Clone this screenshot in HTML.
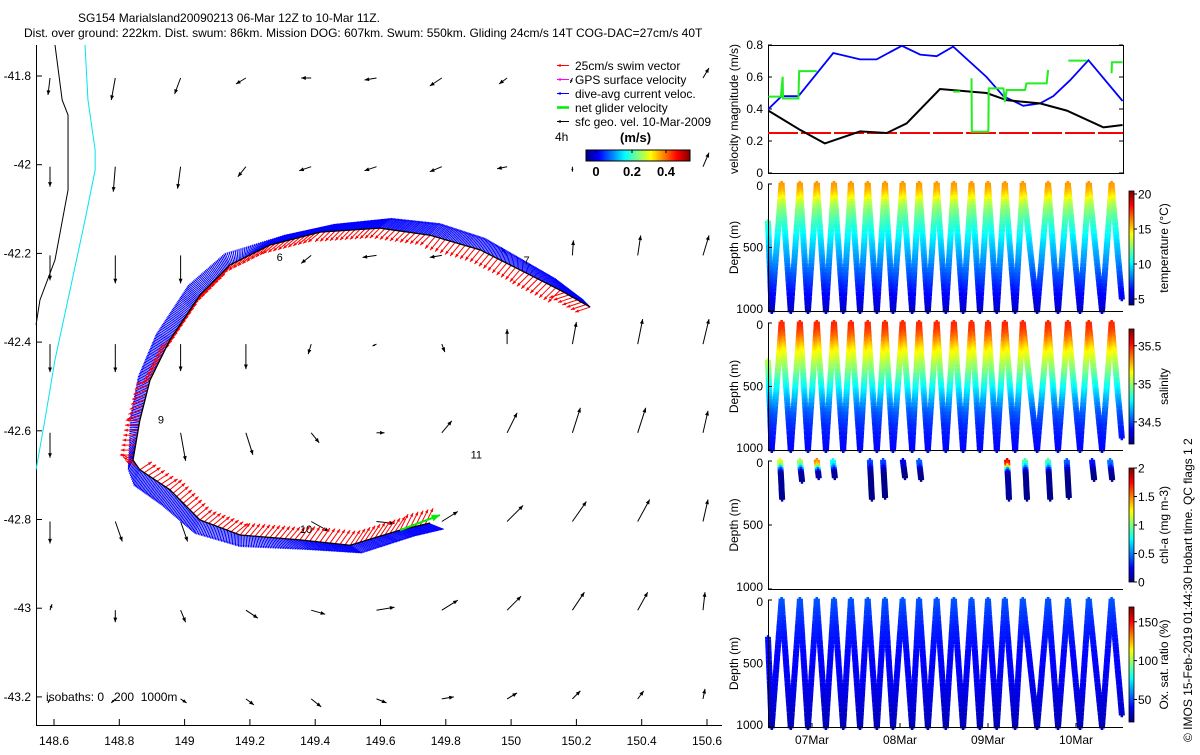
<!DOCTYPE html>
<html><head><meta charset="utf-8"><style>
body{margin:0;background:#fff}
svg text{font-family:"Liberation Sans",sans-serif;fill:#000}
</style></head><body>
<svg id="fig" width="1200" height="750" viewBox="0 0 1200 750" xmlns="http://www.w3.org/2000/svg">
<defs>
<linearGradient id="jetH" x1="0" x2="1" y1="0" y2="0"></linearGradient>
<linearGradient id="jetV" x1="0" x2="0" y1="1" y2="0"></linearGradient>
</defs>
<text x="78" y="22" font-size="12">SG154 Marialsland20090213 06-Mar 12Z to 10-Mar 11Z.</text>
<text x="24" y="37" font-size="12">Dist. over ground: 222km. Dist. swum: 86km. Mission DOG: 607km. Swum: 550km. Gliding 24cm/s 14T COG-DAC=27cm/s 40T</text>
<g id="map"></g>
<g id="legend"></g>
<g id="vel"></g>
<g id="prof"></g>
<text transform="translate(1192,742) rotate(-90)" font-size="12">© IMOS 15-Feb-2019 01:44:30 Hobart time. QC flags 1  2</text>
</svg>
<script>
// ---------- DATA ----------
const gridLons=[148.6,148.8,149.0,149.2,149.4,149.6,149.8,150.0,150.2,150.4,150.6];
const gridLats=[-41.8,-42.0,-42.2,-42.4,-42.6,-42.8,-43.0,-43.2];
const geoU=[
[-0.04,-0.08,-0.12,-0.2,-0.2,-0.24,-0.24,-0.16,-0.04,0,0.12],
[0,-0.04,-0.06,-0.16,-0.24,-0.24,-0.24,-0.2,0,0,0.12],
[0,0,0,0,-0.2,-0.28,-0.24,-0.12,0.02,0.06,0.12],
[0,0,0,0,-0.06,-0.08,0.06,0,0.08,0.1,0.12],
[0,0,0.1,0.14,0.16,0.16,0.2,0.2,0.16,0.16,0.1],
[0,0.14,0.14,0,0.36,0.36,0.32,0.32,0.28,0.24,0.1],
[0.04,0,0.1,0.24,0.28,0.36,0.32,0.28,0.24,0.2,0.04],
[-0.04,-0.08,0.12,0.16,0.2,0.2,0.24,0.2,0.16,0.12,0.04]];
const geoV=[
[-0.34,-0.44,-0.32,-0.12,0,-0.04,-0.16,-0.12,-0.1,0,0.2],
[-0.4,-0.5,-0.44,-0.2,-0.08,-0.08,-0.1,-0.04,-0.1,0,0.28],
[-0.5,-0.56,-0.56,0,-0.16,-0.04,-0.04,0.16,0.3,0.4,0.4],
[-0.56,-0.56,-0.54,-0.5,-0.2,-0.04,-0.16,0.3,0.44,0.5,0.5],
[-0.5,0,-0.56,-0.44,-0.2,0,0.24,0.4,0.5,0.5,0.44],
[-0.44,-0.4,-0.4,0,-0.2,-0.04,0.2,0.32,0.4,0.44,0.44],
[0.12,-0.24,-0.24,-0.16,-0.08,0.06,0.2,0.28,0.36,0.36,0.36],
[-0.08,-0.08,-0.08,-0.12,-0.16,-0.08,0.04,0.12,0.16,0.16,0.2]];
const coast0Lon=[148.603,148.625,148.643,148.643,148.603,148.557,148.545];
const coast0Lat=[-41.730,-41.854,-41.888,-42.057,-42.215,-42.305,-42.361];
const iso1000Lon=[148.695,148.704,148.726,148.726,148.695,148.649,148.603,148.572,148.545];
const iso1000Lat=[-41.730,-41.854,-41.967,-42.012,-42.125,-42.283,-42.440,-42.576,-42.688];
const trackLon=[150.242,150.150,150.027,149.905,149.752,149.598,149.415,149.262,149.139,149.047,148.955,148.894,148.863,148.842,148.863,148.955,149.047,149.170,149.353,149.507,149.660,149.752];
const trackLat=[-42.321,-42.283,-42.237,-42.192,-42.159,-42.143,-42.152,-42.181,-42.226,-42.294,-42.395,-42.486,-42.576,-42.666,-42.688,-42.733,-42.801,-42.835,-42.846,-42.858,-42.824,-42.808];
const curU=[-0.16,-0.1,0,0.1,0.2,0.24,0.3,0.3,-0.1,-0.24,-0.28,-0.24,-0.2,-0.1,-0.12,-0.16,-0.1,0,0.16,0.24,0.3,0.3];
const curV=[0.16,0.24,0.24,0.24,0.24,0.2,0.16,0.2,0.24,0.2,0.12,0.08,0.04,-0.2,-0.32,-0.32,-0.28,-0.24,-0.2,-0.16,-0.12,-0.12];
const swimU=[-0.3,-0.24,-0.2,-0.2,-0.2,-0.2,-0.24,-0.2,-0.16,-0.12,-0.2,-0.28,-0.28,-0.24,0.24,0.24,0.24,0.2,0.2,0.2,0.16,0.16];
const swimV=[-0.1,-0.24,-0.24,-0.24,-0.2,-0.2,-0.2,-0.2,-0.24,-0.24,-0.16,-0.08,0,0.12,0.16,0.2,0.2,0.24,0.28,0.3,0.32,0.32];
const netLon=[149.660,149.782], netLat=[-42.824,-42.790];
const dayLabels=["6","7","9","10","11"];
const dayLon=[149.282,150.038,148.918,149.353,149.876];
const dayLat=[-42.217,-42.224,-42.583,-42.830,-42.663];
const xTicks=[148.6,148.8,149,149.2,149.4,149.6,149.8,150,150.2,150.4,150.6];
const yTicks=[-41.8,-42,-42.2,-42.4,-42.6,-42.8,-43,-43.2];
const blueH=[0.1,3.7,8.3,17.8,25.1,29.6,36.5,41.5,46.0,50.5,59.6,64.2,69.6,74.2,77.8,82.4,87.4,96.7];
const blueV=[0.40,0.48,0.48,0.75,0.71,0.71,0.795,0.74,0.73,0.79,0.60,0.48,0.42,0.435,0.48,0.58,0.705,0.45];
const blackH=[0.1,8.7,15.5,25.1,32.4,37.8,46.9,59.6,65.1,74.2,81.5,91.5,96.7];
const blackV=[0.39,0.27,0.185,0.26,0.25,0.31,0.525,0.50,0.455,0.435,0.39,0.285,0.30];
const greenH=[0.1,3.5,4.0,4.1,4.2,8.3,8.5,8.7,13.3,null,50.5,52.4,null,55.5,55.6,59.6,60.1,60.2,64.2,64.6,65.1,70.1,70.5,76.0,76.4,null,81.9,86.9,null,93.7,93.8,96.7];
const greenV=[0.477,0.477,0.602,0.466,0.466,0.466,0.637,0.637,0.637,null,0.509,0.509,null,0.592,0.258,0.258,0.258,0.529,0.529,0.445,0.519,0.519,0.56,0.56,0.644,null,0.702,0.702,null,0.623,0.692,0.692];
const swimTarget=0.25;
const velTicks=[0,0.2,0.4,0.6,0.8];
const startDepth=300;
const bottomH=[1.0,6.2,10.9,15.8,20.5,25.1,29.7,34.1,39.3,43.6,48.5,53.2,57.8,62.4,67.4,73.4,79.1,85.1,91.1];
const surfH=[3.7,8.7,13.3,18.0,22.6,27.2,31.9,36.7,41.2,46.0,50.7,55.5,60.0,64.6,69.5,76.4,81.8,87.5,93.7];
const endH=96.5, endDepth=900;
const profDepths=[0,50,100,150,200,300,400,500,600,700,800,900,1000];
const tempVals=[16,15.5,14.5,13.2,12.4,11.2,10.2,9.3,8.5,7.6,6.7,5.9,5.2];
const salVals=[35.48,35.45,35.38,35.28,35.18,35.05,34.92,34.78,34.65,34.53,34.46,34.42,34.4];
const oxVals=[52,50,48,46,44,42,40,39,38,36,34,31,29];
const chlH=[3.3,8.7,13.3,17.7,27.8,31.4,36.8,41.2,65.2,70.1,76.4,81.5,88.4,93.3];
const chlMaxDepth=[290,150,130,130,300,280,120,140,300,300,290,280,140,140];
const chlSurf=[1.2,1.1,1.5,0.8,0.4,0.4,0.2,0.45,1.8,0.9,0.9,0.45,0.3,0.5];
const chlFracDepth=[0,30,60,90,300];
const chlFrac=[1,0.9,0.45,0.05,0.03];
const dateTicksH=[12,36,60,84];
const dateLabels=["07Mar","08Mar","09Mar","10Mar"];

// ---------- HELPERS ----------
const NS="http://www.w3.org/2000/svg";
function cl(v){return Math.max(0,Math.min(1,v));}
function jet(t){t=cl(t);const r=cl(1.5-Math.abs(4*t-3)),g=cl(1.5-Math.abs(4*t-2)),b=cl(1.5-Math.abs(4*t-1));return `rgb(${Math.round(r*255)},${Math.round(g*255)},${Math.round(b*255)})`;}
function interp(xs,ys,x){if(x<=xs[0])return ys[0];for(let i=1;i<xs.length;i++){if(x<=xs[i]){const f=(x-xs[i-1])/(xs[i]-xs[i-1]);return ys[i-1]+f*(ys[i]-ys[i-1]);}}return ys[ys.length-1];}
function mk(tag,attrs,parent){const e=document.createElementNS(NS,tag);for(const k in attrs)e.setAttribute(k,attrs[k]);parent.appendChild(e);return e;}
function txt(s,x,y,attrs,parent){const e=mk('text',Object.assign({x:x,y:y,'font-size':12},attrs),parent);e.textContent=s;return e;}
['jetH','jetV'].forEach(id=>{const g=document.getElementById(id);for(let i=0;i<=16;i++){mk('stop',{offset:(i/16),'stop-color':jet(i/16)},g);}});

// ---------- MAP ----------
const map=document.getElementById('map');
const mx=lon=>54+(lon-148.6)*326.5;
const my=lat=>76+(-41.8-lat)*443.5;
const VS=50;
function arrow(x0,y0,x1,y1,col,w,hs,parent,name){
  const g=mk('g',{},parent);
  
  
  mk('line',{x1:x0,y1:y0,x2:x1,y2:y1,stroke:col,'stroke-width':w},g);
  const a=Math.atan2(y1-y0,x1-x0),L=Math.hypot(x1-x0,y1-y0);
  if(L>1&&hs>0){const h=Math.min(hs,L*0.6);
    const p=[[x1,y1],[x1-h*Math.cos(a-0.4),y1-h*Math.sin(a-0.4)],[x1-h*Math.cos(a+0.4),y1-h*Math.sin(a+0.4)]];
    mk('polygon',{points:p.map(q=>q.join(',')).join(' '),fill:col},g);}
  return g;
}
const ax=mk('g',{},map);


mk('line',{x1:36.5,y1:45,x2:36.5,y2:725.5,stroke:'#000'},ax);
mk('line',{x1:36,y1:725.5,x2:722,y2:725.5,stroke:'#000'},ax);
xTicks.forEach(t=>{const x=mx(t);mk('line',{x1:x,y1:725,x2:x,y2:719,stroke:'#000'},ax);
  const e=txt(String(t),x,745,{'text-anchor':'middle'},ax);
  
  });
yTicks.forEach(t=>{const y=my(t);mk('line',{x1:36,y1:y,x2:42,y2:y,stroke:'#000'},ax);
  const e=txt(String(t),31,y+4,{'text-anchor':'end'},ax);
  
  });
const c0=mk('polyline',{points:coast0Lon.map((l,i)=>mx(l)+','+my(coast0Lat[i])).join(' '),fill:'none',stroke:'#000','stroke-width':1},map);


const c1=mk('polyline',{points:iso1000Lon.map((l,i)=>mx(l)+','+my(iso1000Lat[i])).join(' '),fill:'none',stroke:'#00e5ee','stroke-width':1},map);


gridLats.forEach((lat,r)=>gridLons.forEach((lon,c)=>{
  const x0=mx(lon)-4,y0=my(lat)+2;
  arrow(x0,y0,x0+geoU[r][c]*VS,y0-geoV[r][c]*VS,'#000',1,5,map,'geo-velocity-arrow');
}));
const trk=mk('g',{},map);


for(let i=0;i<trackLon.length-1;i++){
  const xa=mx(trackLon[i]),ya=my(trackLat[i]),xb=mx(trackLon[i+1]),yb=my(trackLat[i+1]);
  const n=Math.max(5,Math.round(Math.hypot(xb-xa,yb-ya)/1.5));
  for(let k=0;k<n;k++){const f=k/n,x=xa+f*(xb-xa),y=ya+f*(yb-ya);
    const cu=curU[i]+f*(curU[i+1]-curU[i]),cv=curV[i]+f*(curV[i+1]-curV[i]);
    arrow(x,y,x+cu*VS,y-cv*VS,'#0000ff',1,2,trk,'dive-avg-current-vector');}
}
for(let i=0;i<trackLon.length-1;i++){
  const xa=mx(trackLon[i]),ya=my(trackLat[i]),xb=mx(trackLon[i+1]),yb=my(trackLat[i+1]);
  const n=Math.max(3,Math.round(Math.hypot(xb-xa,yb-ya)/5));
  for(let k=0;k<n;k++){const f=k/n,x=xa+f*(xb-xa),y=ya+f*(yb-ya);
    arrow(x,y,x+swimU[i]*VS,y-swimV[i]*VS,'#ff0000',1,4,trk,'swim-vector');}
}
const tl=mk('polyline',{points:trackLon.map((l,i)=>mx(l)+','+my(trackLat[i])).join(' '),fill:'none',stroke:'#000','stroke-width':1.3},map);


arrow(mx(netLon[0]),my(netLat[0]),mx(netLon[1]),my(netLat[1]),'#00ee00',2,9,map,'net-glider-velocity-arrow');
dayLabels.forEach((s,i)=>{const e=txt(s,mx(dayLon[i]),my(dayLat[i]),{'font-size':11},map);
  
  });
const iso=txt('isobaths: 0\u00a0\u00a0\u00a0200\u00a0\u00a01000m',46,701,{},map);



// ---------- LEGEND ----------
const lg=document.getElementById('legend');
const lgItems=[['25cm/s swim vector','#ff0000',1],['GPS surface velocity','#ff00ff',1],['dive-avg current veloc.','#0000ff',1],['net glider velocity','#00ee00',2.5],['sfc geo. vel. 10-Mar-2009','#000',1]];
lgItems.forEach((it,i)=>{const y=65.5+i*14;
  arrow(569,y,557,y,it[1],it[2],4,lg,'legend-swatch');
  const e=txt(it[0],575,y+4.5,{},lg);
  
  });
txt('4h',555,141,{},lg);
const ul=txt('(m/s)',620,142,{'font-weight':'bold','font-size':13},lg);


const cb=mk('rect',{x:586,y:150,width:104,height:11,fill:'url(#jetH)',stroke:'#000','stroke-width':1},lg);


[['0',596],['0.2',632],['0.4',666]].forEach(t=>{txt(t[0],t[1],176,{'text-anchor':'middle','font-weight':'bold','font-size':13},lg);mk('line',{x1:t[1],y1:150,x2:t[1],y2:153,stroke:'#000'},lg);});

// ---------- RIGHT PANELS ----------
const L=768,R=1123;
const tx=h=>L+h*88/24;
const vel=document.getElementById('vel');
const vT=45,vB=173;
const vy=v=>vB-v/0.8*(vB-vT);
mk('rect',{x:L+0.5,y:vT+0.5,width:R-L,height:vB-vT,fill:'none',stroke:'#000'},vel);
velTicks.forEach(t=>{const y=vy(t);mk('line',{x1:L,y1:y,x2:L+4,y2:y,stroke:'#000'},vel);mk('line',{x1:R-4,y1:y,x2:R,y2:y,stroke:'#000'},vel);
  const e=txt(String(t),763,y+4,{'text-anchor':'end'},vel);
  
  });
const vl=txt('velocity magnitude (m/s)',0,0,{transform:`translate(738,109) rotate(-90)`,'text-anchor':'middle'},vel);


const rl=mk('line',{x1:L,y1:vy(swimTarget),x2:R,y2:vy(swimTarget),stroke:'#ff0000','stroke-width':2,'stroke-dasharray':'30 3'},vel);


function polyStr(H,V){return H.map((h,i)=>tx(h)+','+vy(V[i])).join(' ');}
const bl=mk('polyline',{points:polyStr(blueH,blueV),fill:'none',stroke:'#0000ff','stroke-width':1.8},vel);


const kl=mk('polyline',{points:polyStr(blackH,blackV),fill:'none',stroke:'#000','stroke-width':2},vel);


let seg=[];const segs=[];
greenH.forEach((h,i)=>{if(h===null){segs.push(seg);seg=[];}else seg.push(tx(h)+','+vy(greenV[i]));});segs.push(seg);
segs.forEach(s=>{const g=mk('polyline',{points:s.join(' '),fill:'none',stroke:'#22ee22','stroke-width':2},vel);
  
  });

const prof=document.getElementById('prof');
const panels=[
 {name:'temperature-panel',top:184,bot:311,vmin:4.14,vmax:20.43,vals:tempVals,label:'temperature (°C)',ticks:[5,10,15,20],cbT:191,cbB:305},
 {name:'salinity-panel',top:323,bot:450,vmin:34.21,vmax:35.72,vals:salVals,label:'salinity',ticks:[34.5,35,35.5],cbT:329,cbB:444},
 {name:'chl-panel',top:461,bot:589,vmin:0,vmax:2,vals:null,label:'chl-a (mg m-3)',ticks:[0,0.5,1,1.5,2],cbT:468,cbB:582},
 {name:'oxygen-panel',top:600,bot:727,vmin:21,vmax:169,vals:oxVals,label:'Ox. sat. ratio (%)',ticks:[50,100,150],cbT:607,cbB:722}];
const pathH=[0],pathD=[startDepth];
for(let i=0;i<bottomH.length;i++){pathH.push(bottomH[i]);pathD.push(1000);pathH.push(surfH[i]);pathD.push(0);}
pathH.push(endH);pathD.push(endDepth);
function plus(x,y,c){return `<path d="M${(x-3).toFixed(1)} ${y.toFixed(1)}h6M${x.toFixed(1)} ${(y-3).toFixed(1)}v6" stroke="${c}" stroke-width="2.4"/>`;}
panels.forEach(p=>{
  const g=mk('g',{},prof);
  
  
  const dy=d=>p.top+d/1000*(p.bot-p.top);
  const col=v=>jet((v-p.vmin)/(p.vmax-p.vmin));
  let html='';
  if(p.vals){
    for(let i=0;i<pathH.length-1;i++){
      const d0=pathD[i],d1=pathD[i+1],n=Math.max(2,Math.round(Math.abs(d1-d0)/18));
      for(let k=0;k<=n;k++){const f=k/n,d=d0+f*(d1-d0),h=pathH[i]+f*(pathH[i+1]-pathH[i]);
        html+=plus(tx(h),dy(d),col(interp(profDepths,p.vals,d)));}
    }
  } else {
    chlH.forEach((h,j)=>{const n=Math.round(chlMaxDepth[j]/14);
      for(let k=0;k<=n;k++){const d=k*14;const x=tx(h)+d/chlMaxDepth[j]*2;
        html+=plus(x,dy(d),col(chlSurf[j]*interp(chlFracDepth,chlFrac,d)));}
    });
  }
  const pg=mk('g',{},g);
  
  
  pg.innerHTML=html;
  mk('line',{x1:L+0.5,y1:p.top,x2:L+0.5,y2:p.bot,stroke:'#000'},g);
  mk('line',{x1:L,y1:p.bot+0.5,x2:R,y2:p.bot+0.5,stroke:'#000'},g);
  [0,500,1000].forEach(d=>{const y=dy(d);mk('line',{x1:L,y1:y,x2:L+4,y2:y,stroke:'#000'},g);
    const e=txt(String(d),763,y+(d===0?6:d===1000?2:4),{'text-anchor':'end'},g);
    
    });
  const yl=txt('Depth (m)',0,0,{transform:`translate(738,${(p.top+p.bot)/2}) rotate(-90)`,'text-anchor':'middle'},g);
  
  
  const r=mk('rect',{x:1129,y:p.cbT,width:5,height:p.cbB-p.cbT,fill:'url(#jetV)',stroke:'#000','stroke-width':0.8},g);
  
  
  p.ticks.forEach(t=>{const y=p.cbB-(t-p.vmin)/(p.vmax-p.vmin)*(p.cbB-p.cbT);
    mk('line',{x1:1134,y1:y,x2:1137,y2:y,stroke:'#000'},g);
    txt(String(t),1138,y+4.5,{},g);});
  const cl2=txt(p.label,0,0,{transform:`translate(1168,${(p.cbT+p.cbB)/2}) rotate(-90)`,'text-anchor':'middle'},g);
  
  
});
dateTicksH.forEach((h,i)=>{const x=tx(h);mk('line',{x1:x,y1:727,x2:x,y2:723,stroke:'#000'},prof);
  const e=txt(dateLabels[i],x,744,{'text-anchor':'middle'},prof);
  
  });
</script>
</body></html>
